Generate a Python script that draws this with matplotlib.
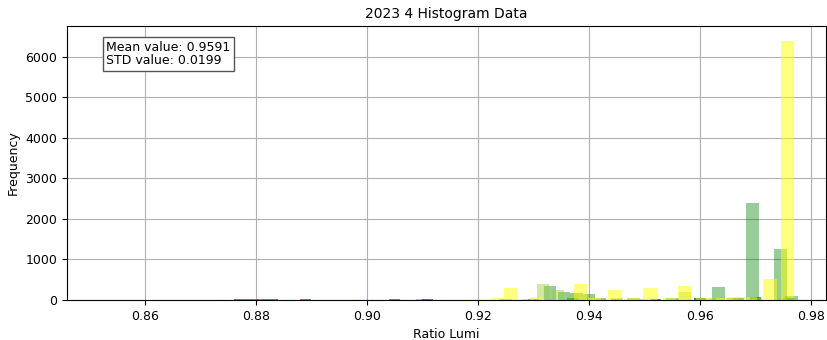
import matplotlib
matplotlib.use("Agg")
import matplotlib.pyplot as plt

# bin centres and counts, one group per overlaid histogram
yellow_x = [0.8955, 0.8985, 0.9015, 0.9195, 0.9235, 0.9259, 0.9305, 0.9385, 0.9410,
            0.9447, 0.9480, 0.9510, 0.9545, 0.9573, 0.9605, 0.9640, 0.9665, 0.9690,
            0.9726, 0.9758]
yellow_y = [10, 15, 10, 15, 40, 296, 80, 395, 60,
            250, 40, 300, 50, 345, 60, 50, 70, 80,
            518, 6380]

ygreen_x = [0.9210, 0.9290, 0.9318, 0.9345, 0.9372, 0.9400, 0.9450, 0.9500, 0.9573,
            0.9620, 0.9660, 0.9700, 0.9745]
ygreen_y = [10, 30, 395, 250, 150, 80, 40, 30, 200,
            40, 50, 60, 60]

green_x = [0.9020, 0.9100, 0.9250, 0.9330, 0.9355, 0.9378, 0.9400, 0.9420, 0.9480,
           0.9550, 0.9600, 0.9634, 0.9660, 0.9695, 0.9745, 0.9765]
green_y = [10, 15, 20, 345, 200, 180, 150, 60, 40,
           40, 50, 320, 60, 2400, 1250, 100]

teal_x = [0.8770, 0.8790, 0.8810, 0.8830, 0.8890, 0.8990, 0.9050, 0.9110, 0.9150,
          0.9300, 0.9370, 0.9450, 0.9520, 0.9600, 0.9670, 0.9700, 0.9760]
teal_y = [25, 30, 25, 20, 20, 10, 15, 15, 10,
          30, 40, 30, 25, 40, 60, 80, 60]

mean_value = 0.9591
std_value = 0.0199

plt.rcParams.update({'font.size': 9})
fig = plt.figure(figsize=(8.27, 3.4), dpi=100)
ax = fig.add_axes([0.081, 0.1176, 0.9178, 0.806])

ax.bar(teal_x, teal_y, width=0.0020, color='#1f8f70', alpha=0.85, zorder=2)
ax.bar(green_x, green_y, width=0.0023, color='green', alpha=0.4, zorder=3)
ax.bar(ygreen_x, ygreen_y, width=0.0022, color='yellowgreen', alpha=0.45, zorder=3)
ax.bar(yellow_x, yellow_y, width=0.0024, color='yellow', alpha=0.5, zorder=4)

ax.set_xlim(0.846, 0.9827)
ax.set_ylim(0, 6760)
ax.set_xticks([0.86, 0.88, 0.90, 0.92, 0.94, 0.96, 0.98])
ax.set_xticklabels(['0.86', '0.88', '0.90', '0.92', '0.94', '0.96', '0.98'])
ax.set_yticks([0, 1000, 2000, 3000, 4000, 5000, 6000])
ax.grid(True, color='#b0b0b0', linewidth=0.8, zorder=0)
ax.set_axisbelow(True)

ax.set_title("2023 4 Histogram Data", fontsize=10)
ax.set_xlabel("Ratio Lumi", fontsize=9)
ax.set_ylabel("Frequency", fontsize=9)

ax.text(0.052, 0.945, "Mean value: %.4f\nSTD value: %.4f" % (mean_value, std_value),
        transform=ax.transAxes, va='top', ha='left', fontsize=9, linespacing=1.0,
        bbox=dict(boxstyle='square,pad=0.3', facecolor='white', edgecolor='#555555'),
        zorder=6)

plt.savefig("out.png", dpi=100)
plt.close(fig)
